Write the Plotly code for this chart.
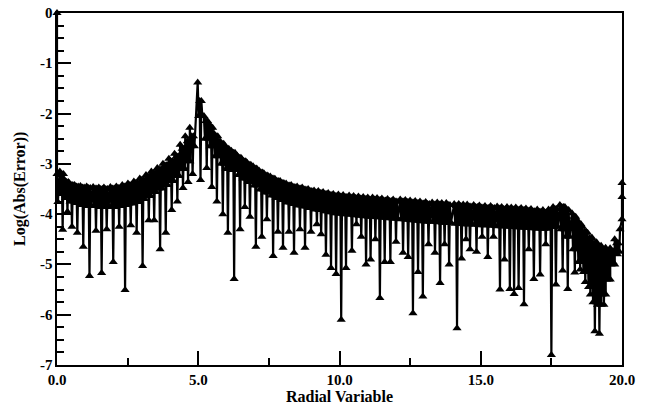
import plotly.graph_objects as go

# ---- data (per oscillation period) ----
dip_x = [0.20, 0.37, 0.53, 0.72, 0.93, 1.15, 1.38, 1.58, 1.76, 1.99,
         2.20, 2.41, 2.61, 2.82, 3.03, 3.25, 3.44, 3.65, 3.85, 4.06,
         4.26, 4.46, 4.64, 4.80, 5.08, 5.30, 5.48, 5.66, 5.87, 6.05,
         6.27, 6.48, 6.65, 6.83, 7.04, 7.25, 7.43, 7.65, 7.82, 8.00,
         8.21, 8.39, 8.60, 8.78, 8.99, 9.20, 9.35, 9.52, 9.70, 9.88,
         10.06, 10.23, 10.44, 10.60, 10.77, 10.94, 11.10, 11.27, 11.43, 11.60,
         11.80, 12.00, 12.25, 12.43, 12.60, 12.78, 12.95, 13.15, 13.38, 13.56,
         13.72, 13.88, 14.16, 14.32, 14.48, 14.62, 14.85, 15.05, 15.25, 15.45,
         15.68, 15.84, 16.03, 16.18, 16.34, 16.53, 16.70, 16.88, 17.10, 17.30,
         17.50, 17.66, 17.90, 18.08, 18.33, 18.52, 18.70, 18.88, 19.04, 19.20,
         19.36, 19.52, 19.68, 19.84]
dip_y = [-4.31, -3.95, -4.25, -4.37, -4.65, -5.23, -4.33, -5.17, -4.30, -4.95,
         -4.25, -5.51, -4.22, -4.37, -5.03, -4.12, -4.12, -4.70, -4.37, -3.92,
         -3.75, -3.48, -3.36, -3.20, -3.32, -3.08, -3.46, -3.75, -4.00, -4.37,
         -5.29, -4.30, -3.86, -4.05, -4.65, -4.45, -4.10, -4.83, -4.35, -4.67,
         -4.35, -4.77, -4.30, -4.67, -4.35, -4.20, -4.40, -4.81, -5.07, -5.19,
         -6.10, -5.07, -4.73, -4.20, -4.45, -5.00, -4.90, -4.50, -5.67, -4.95,
         -4.95, -4.55, -4.77, -4.85, -5.97, -5.15, -5.64, -4.60, -4.77, -5.37,
         -4.60, -5.00, -6.27, -4.88, -4.50, -4.70, -4.75, -4.45, -4.85, -4.45,
         -5.50, -4.90, -5.49, -5.59, -5.47, -5.79, -4.70, -5.29, -5.20, -4.60,
         -6.80, -5.40, -5.12, -5.49, -5.16, -5.10, -5.35, -5.60, -6.33, -6.38,
         -5.80, -5.30, -4.95, -4.80]
top_y = [-3.15, -3.32, -3.38, -3.42, -3.44, -3.45, -3.46, -3.47, -3.47, -3.46,
         -3.45, -3.42, -3.39, -3.35, -3.29, -3.22, -3.15, -3.08, -3.00, -2.90,
         -2.80, -2.62, -2.45, -2.28, -1.38, -2.05, -2.20, -2.40, -2.55, -2.65,
         -2.74, -2.84, -2.91, -2.98, -3.05, -3.13, -3.19, -3.25, -3.30, -3.34,
         -3.39, -3.42, -3.45, -3.47, -3.50, -3.53, -3.54, -3.56, -3.58, -3.60,
         -3.61, -3.62, -3.63, -3.64, -3.65, -3.66, -3.67, -3.67, -3.68, -3.69,
         -3.70, -3.71, -3.71, -3.72, -3.73, -3.74, -3.75, -3.76, -3.77, -3.77,
         -3.78, -3.78, -3.80, -3.80, -3.81, -3.81, -3.82, -3.83, -3.84, -3.84,
         -3.85, -3.86, -3.86, -3.87, -3.87, -3.88, -3.89, -3.90, -3.91, -3.92,
         -3.91, -3.86, -3.82, -3.86, -3.98, -4.12, -4.25, -4.37, -4.47, -4.56,
         -4.63, -4.67, -4.68, -4.50]
upper_y = [-3.20, -3.36, -3.42, -3.45, -3.47, -3.48, -3.49, -3.50, -3.50, -3.49,
           -3.48, -3.45, -3.42, -3.38, -3.32, -3.25, -3.18, -3.11, -3.03, -2.95,
           -2.85, -2.70, -2.55, -2.45, -1.75, -2.15, -2.28, -2.45, -2.60, -2.70,
           -2.78, -2.88, -2.95, -3.02, -3.09, -3.17, -3.23, -3.29, -3.34, -3.38,
           -3.43, -3.46, -3.49, -3.51, -3.54, -3.57, -3.58, -3.60, -3.62, -3.64,
           -3.65, -3.66, -3.67, -3.68, -3.69, -3.70, -3.71, -3.71, -3.72, -3.73,
           -3.74, -3.75, -3.75, -3.76, -3.77, -3.78, -3.79, -3.80, -3.81, -3.81,
           -3.82, -3.82, -3.84, -3.84, -3.85, -3.85, -3.86, -3.87, -3.88, -3.88,
           -3.89, -3.90, -3.90, -3.91, -3.91, -3.92, -3.93, -3.94, -3.95, -3.96,
           -3.95, -3.90, -3.86, -3.92, -4.05, -4.20, -4.35, -4.48, -4.58, -4.66,
           -4.72, -4.75, -4.74, -4.58]
mid_y = [-3.60, -3.68, -3.75, -3.78, -3.82, -3.84, -3.84, -3.86, -3.84, -3.86,
         -3.84, -3.82, -3.79, -3.76, -3.70, -3.64, -3.56, -3.49, -3.42, -3.34,
         -3.24, -3.10, -2.95, -2.65, -2.05, -2.50, -2.65, -2.85, -3.00, -3.10,
         -3.12, -3.22, -3.29, -3.36, -3.43, -3.51, -3.57, -3.63, -3.68, -3.72,
         -3.77, -3.80, -3.83, -3.85, -3.88, -3.91, -3.92, -3.94, -3.96, -3.98,
         -3.99, -4.00, -4.01, -4.02, -4.03, -4.04, -4.05, -4.05, -4.06, -4.07,
         -4.08, -4.09, -4.10, -4.11, -4.12, -4.13, -4.14, -4.15, -4.15, -4.16,
         -4.17, -4.17, -4.19, -4.19, -4.20, -4.20, -4.21, -4.22, -4.22, -4.23,
         -4.24, -4.24, -4.25, -4.25, -4.26, -4.27, -4.27, -4.28, -4.29, -4.29,
         -4.25, -4.25, -4.30, -4.45, -4.70, -4.95, -5.15, -5.45, -5.75, -5.80,
         -5.60, -5.30, -5.00, -4.75]
start_x = [0.0, 0.0, 0.03]
start_y = [0.0, -3.20, -3.76]
end_x = [19.93, 20.0, 20.0, 20.0]
end_y = [-4.30, -4.10, -3.66, -3.38]

x_tick_vals = [0, 5, 10, 15, 20]
x_tick_labels = ["0.0", "5.0", "10.0", "15.0", "20.0"]
y_tick_vals = [0, -1, -2, -3, -4, -5, -6, -7]
y_tick_labels = ["0", "-1", "-2", "-3", "-4", "-5", "-6", "-7"]

# ---- assemble the polyline: top, mid, upper, dip, upper, mid per period ----
xs = list(start_x)
ys = list(start_y)
for dx, dy, ty, uy, my in zip(dip_x, dip_y, top_y, upper_y, mid_y):
    xs += [dx - 0.10, dx - 0.065, dx - 0.03, dx, dx + 0.03, dx + 0.065]
    ys += [ty, my, uy, dy, uy, my]
xs += end_x
ys += end_y

fig = go.Figure()
fig.add_trace(go.Scatter(
    x=xs, y=ys, mode="lines+markers",
    line=dict(color="black", width=2.2),
    marker=dict(symbol="triangle-up", size=8, color="black"),
    cliponaxis=False, showlegend=False,
))

font_family = "Liberation Serif"
tick_font = dict(family=font_family, size=15, color="black", weight="bold")
title_font = dict(family=font_family, size=16, color="black", weight="bold")

fig.update_xaxes(
    range=[0, 20], tickmode="array", tickvals=x_tick_vals, ticktext=x_tick_labels,
    ticks="inside", ticklen=14, tickwidth=2, tickcolor="black",
    minor=dict(tickmode="array", tickvals=[2.5, 7.5, 12.5, 17.5], ticks="inside",
               ticklen=7, tickwidth=2, tickcolor="black"),
    showline=True, linewidth=2, linecolor="black", mirror=True,
    showgrid=False, zeroline=False, tickfont=tick_font,
    title=dict(text="Radial Variable", font=title_font, standoff=2),
    automargin=False,
)
fig.update_yaxes(
    range=[-7, 0], tickmode="array", tickvals=y_tick_vals, ticktext=y_tick_labels,
    ticks="inside", ticklen=14, tickwidth=2, tickcolor="black",
    minor=dict(tick0=0, dtick=0.25, ticks="inside",
               ticklen=7, tickwidth=2, tickcolor="black"),
    showline=True, linewidth=2, linecolor="black", mirror=True,
    showgrid=False, zeroline=False, showticklabels=False,
    automargin=False,
)

annotations = []
for v, t in zip(y_tick_vals, y_tick_labels):
    annotations.append(dict(x=0, xref="paper", y=v, yref="y", text=t,
                            showarrow=False, xanchor="right", yanchor="middle",
                            xshift=-2, font=tick_font))
annotations.append(dict(x=0, xref="paper", y=0.5, yref="paper",
                        text="Log(Abs(Error))", textangle=-90, showarrow=False,
                        xanchor="center", yanchor="middle", xshift=-37,
                        font=title_font))

fig.update_layout(
    width=647, height=409,
    margin=dict(l=57, r=25, t=13, b=44),
    plot_bgcolor="white", paper_bgcolor="white",
    annotations=annotations,
)
fig.write_html("out.html")
